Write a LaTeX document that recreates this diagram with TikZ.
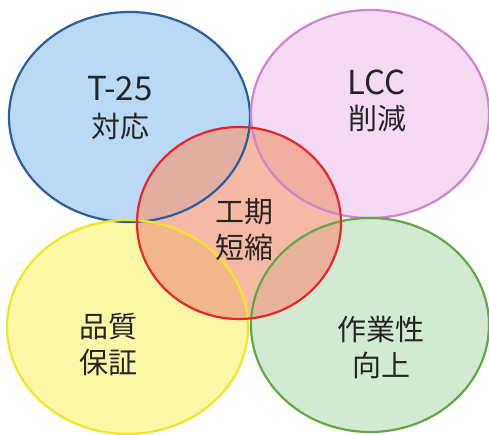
\documentclass[tikz,border=0pt]{standalone}
\usepackage{fontspec}
\setmainfont{Noto Sans CJK JP}
\usetikzlibrary{shapes.geometric}
\definecolor{bluefill}{HTML}{B9D9F4}
\definecolor{blueline}{HTML}{2C5E9C}
\definecolor{pinkfill}{HTML}{F4DAF2}
\definecolor{pinkline}{HTML}{CF86CF}
\definecolor{redfill}{HTML}{F29C80}
\definecolor{redline}{HTML}{E8262A}
\definecolor{yelfill}{HTML}{FAF8A6}
\definecolor{yelline}{HTML}{F2E622}
\definecolor{grnfill}{HTML}{D2EAD2}
\definecolor{grnline}{HTML}{62A844}
\begin{document}
\begin{tikzpicture}[x=1pt,y=-1pt,
  blob/.style={ellipse,inner sep=0pt,line width=2.2pt},
  lbl/.style={font=\fontsize{29}{36}\selectfont,align=center,text=black!85,inner sep=0pt},
  big/.style={font=\fontsize{33}{36}\selectfont}]
\useasboundingbox (0,0) rectangle (489,435);
\fill[white] (0,0) rectangle (489,435);
% fills
\node[blob,fill=bluefill,minimum width=241pt,minimum height=210pt] (blue) at (129.5,117) {};
\node[blob,fill=pinkfill,minimum width=238pt,minimum height=208pt] (pink) at (370,114) {};
\node[blob,fill=yelfill,minimum width=241pt,minimum height=214pt] (yel) at (127.5,327) {};
\node[blob,fill=grnfill,minimum width=238pt,minimum height=214pt] (grn) at (370,325) {};
\node[blob,fill=redfill,fill opacity=0.7,minimum width=204pt,minimum height=192pt] (red) at (239,223) {};
% outlines
\draw[blueline,line width=2.2pt] (blue.center) ellipse [x radius=120.5pt,y radius=105pt];
\draw[pinkline,line width=2.2pt] (pink.center) ellipse [x radius=119pt,y radius=104pt];
\draw[yelline,line width=2.2pt] (yel.center) ellipse [x radius=120.5pt,y radius=107pt];
\draw[grnline,line width=2.2pt] (grn.center) ellipse [x radius=119pt,y radius=107pt];
\draw[redline,line width=2.2pt] (red.center) ellipse [x radius=102pt,y radius=96pt];
% labels
\node[lbl,big] (t1a) at (120,89) {T-25};
\node[lbl] (t1b) at (120,126) {対応};
\node[lbl,big] (t2a) at (377,82) {LCC};
\node[lbl] (t2b) at (377,118) {削減};
\node[lbl] (t3) at (244,230) {工期\\短縮};
\node[lbl] (t4) at (108,345) {品質\\保証};
\node[lbl] (t5) at (381,347) {作業性\\向上};
\end{tikzpicture}
\end{document}
